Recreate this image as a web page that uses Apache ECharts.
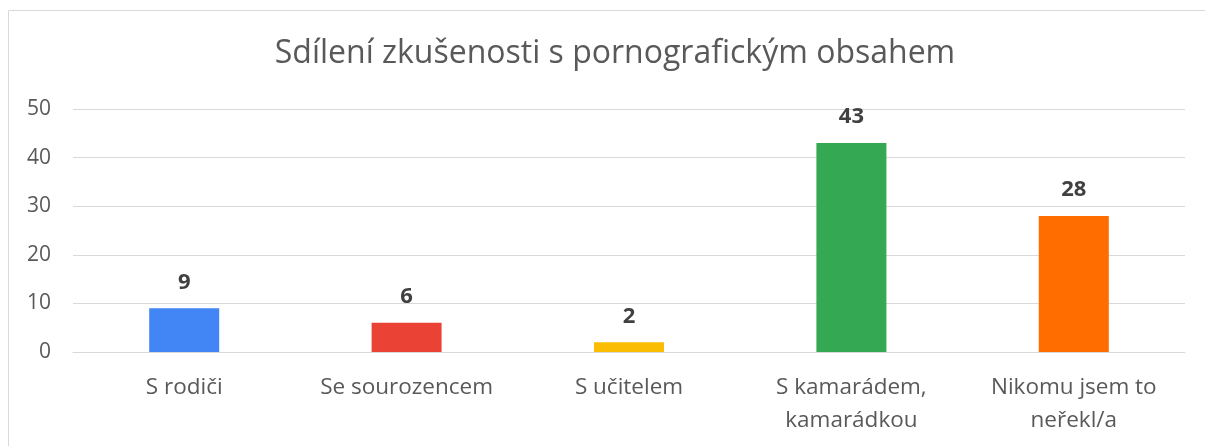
<!DOCTYPE html>
<html>
<head>
<meta charset="utf-8">
<script src="https://cdn.jsdelivr.net/npm/echarts@6/dist/echarts.min.js"></script>
<style>
html,body{margin:0;padding:0;background:#fff;}
#chart{width:1205px;height:446px;}
</style>
</head>
<body>
<div id="chart"></div>
<script>
var titleText = 'Sdílení zkušenosti s pornografickým obsahem';
var categories = ['S rodiči', 'Se sourozencem', 'S učitelem', 'S kamarádem,\nkamarádkou', 'Nikomu jsem to\nneřekl/a'];
var values = [9, 6, 2, 43, 28];
var barColors = ['#4285F4', '#EA4335', '#FBBC04', '#34A853', '#FF6D01'];
var yTicks = [0, 10, 20, 30, 40, 50];

var chart = echarts.init(document.getElementById('chart'), null, {renderer: 'canvas'});
var font = '"Open Sans", sans-serif';
chart.setOption({
  animation: false,
  backgroundColor: '#ffffff',
  textStyle: {fontFamily: font},
  graphic: [{
    type: 'rect',
    shape: {x: 8.5, y: 10.5, width: 1210, height: 450},
    style: {fill: 'none', stroke: '#d9d9d9', lineWidth: 1},
    silent: true
  }],
  title: {
    text: titleText,
    left: 610,
    textAlign: 'center',
    top: 33,
    textStyle: {fontFamily: font, fontSize: 32, fontWeight: 'normal', color: '#595959'}
  },
  grid: {left: 73, right: 20, top: 109, bottom: 94, containLabel: false},
  xAxis: {
    type: 'category',
    data: categories,
    axisLine: {show: true, lineStyle: {color: '#d9d9d9', width: 1}},
    axisTick: {show: false},
    axisLabel: {color: '#595959', fontSize: 22.5, fontFamily: font, margin: 19, lineHeight: 33, interval: 0}
  },
  yAxis: {
    type: 'value',
    min: yTicks[0],
    max: yTicks[yTicks.length - 1],
    interval: yTicks[1] - yTicks[0],
    axisLine: {show: false},
    axisTick: {show: false},
    axisLabel: {color: '#595959', fontSize: 21, fontFamily: font, margin: 22},
    splitLine: {lineStyle: {color: '#d9d9d9', width: 1}}
  },
  series: [{
    type: 'bar',
    barWidth: 70,
    data: values.map(function (v, i) { return {value: v, itemStyle: {color: barColors[i]}}; }),
    label: {
      show: true,
      position: 'top',
      distance: 15,
      color: '#404040',
      fontSize: 22,
      fontWeight: 'bold',
      fontFamily: font
    }
  }]
});
</script>
</body>
</html>
